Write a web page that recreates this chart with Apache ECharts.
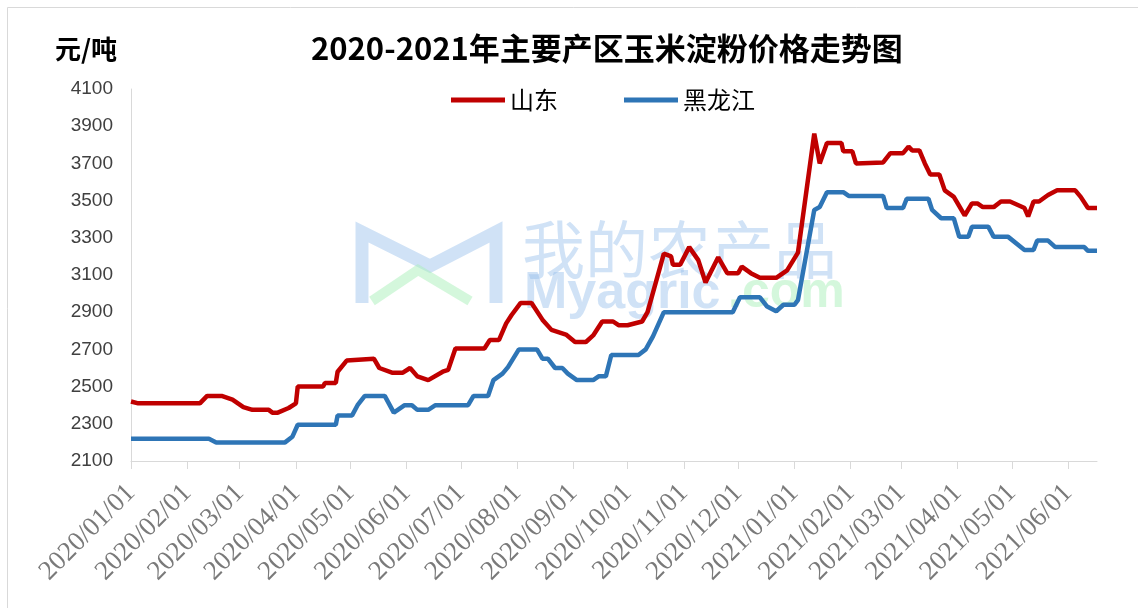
<!DOCTYPE html>
<html>
<head>
<meta charset="utf-8">
<title>玉米淀粉价格走势图</title>
<script src="https://cdn.jsdelivr.net/npm/echarts@6/dist/echarts.min.js"></script>
<style>html,body{margin:0;padding:0;background:#fff;}</style>
</head>
<body>
<div id="main" style="width:1138px;height:608px;"></div>
<script>
// 山东
var sdDates = ['2020-01-01','2020-01-05','2020-02-08','2020-02-12','2020-02-20','2020-02-26','2020-03-03','2020-03-08',
  '2020-03-17','2020-03-19','2020-03-22','2020-03-28','2020-04-01','2020-04-02','2020-04-16','2020-04-17','2020-04-23',
  '2020-04-24','2020-04-29','2020-04-30','2020-05-14','2020-05-17','2020-05-24','2020-05-30','2020-06-03','2020-06-07',
  '2020-06-13','2020-06-21','2020-06-24','2020-06-28','2020-07-14','2020-07-17','2020-07-22','2020-07-26','2020-07-29',
  '2020-08-03','2020-08-09','2020-08-15','2020-08-20','2020-08-28','2020-09-02','2020-09-08','2020-09-12','2020-09-17',
  '2020-09-23','2020-09-26','2020-10-01','2020-10-09','2020-10-12','2020-10-21','2020-10-25','2020-10-26','2020-10-30',
  '2020-11-04','2020-11-09','2020-11-13','2020-11-20','2020-11-25','2020-12-01','2020-12-03','2020-12-08','2020-12-13',
  '2020-12-22','2020-12-28','2021-01-03','2021-01-12','2021-01-15','2021-01-19','2021-01-27','2021-01-28','2021-02-02',
  '2021-02-04','2021-02-19','2021-02-23','2021-03-02','2021-03-05','2021-03-07','2021-03-11','2021-03-14','2021-03-17',
  '2021-03-22','2021-03-25','2021-03-30','2021-04-05','2021-04-09','2021-04-12','2021-04-15','2021-04-21','2021-04-25',
  '2021-04-30','2021-05-08','2021-05-10','2021-05-13','2021-05-16','2021-05-21','2021-05-26','2021-06-05','2021-06-08',
  '2021-06-12','2021-06-17'];
var sdPrices = [2420,2410,2410,2450,2450,2430,2390,2375,
  2375,2360,2360,2385,2410,2500,2500,2520,2520,
  2580,2640,2650,2650,2600,2575,2575,2600,2555,
  2535,2580,2590,2705,2705,2750,2750,2840,2885,
  2950,2950,2860,2805,2780,2740,2740,2775,2850,
  2850,2830,2830,2850,2900,3215,3200,3155,3155,
  3250,3180,3060,3195,3110,3110,3145,3110,3085,
  3085,3125,3220,3860,3700,3810,3810,3765,3765,
  3700,3705,3755,3755,3790,3770,3770,3700,3640,
  3640,3555,3520,3420,3485,3485,3465,3465,3495,
  3495,3460,3415,3495,3495,3530,3555,3555,3520,
  3460,3460];

// 黑龙江
var hljDates = ['2020-01-01','2020-02-13','2020-02-17','2020-03-26','2020-03-30','2020-04-02','2020-04-23','2020-04-24',
  '2020-05-02','2020-05-05','2020-05-09','2020-05-20','2020-05-25','2020-05-31','2020-06-04','2020-06-07','2020-06-13',
  '2020-06-17','2020-07-05','2020-07-08','2020-07-16','2020-07-19','2020-07-24','2020-07-27','2020-08-02','2020-08-12',
  '2020-08-15','2020-08-18','2020-08-22','2020-08-26','2020-08-29','2020-09-03','2020-09-12','2020-09-15','2020-09-19',
  '2020-09-22','2020-10-07','2020-10-11','2020-10-15','2020-10-21','2020-11-28','2020-12-02','2020-12-13','2020-12-17',
  '2020-12-22','2020-12-26','2021-01-01','2021-01-03','2021-01-12','2021-01-15','2021-01-19','2021-01-28','2021-01-31',
  '2021-02-19','2021-02-21','2021-03-02','2021-03-04','2021-03-16','2021-03-18','2021-03-23','2021-03-30','2021-04-02',
  '2021-04-07','2021-04-09','2021-04-18','2021-04-21','2021-04-29','2021-05-08','2021-05-13','2021-05-15','2021-05-21',
  '2021-05-25','2021-06-10','2021-06-12','2021-06-17'];
var hljPrices = [2220,2220,2200,2200,2230,2295,2295,2345,
  2345,2400,2450,2450,2360,2400,2400,2375,2375,
  2400,2400,2450,2450,2535,2570,2605,2700,2700,
  2650,2650,2600,2600,2570,2535,2535,2555,2555,
  2670,2670,2700,2770,2900,2900,2980,2980,2930,
  2905,2940,2940,2965,3450,3465,3545,3545,3525,
  3525,3460,3460,3510,3510,3450,3405,3405,3305,
  3305,3360,3360,3305,3305,3235,3235,3285,3285,
  3250,3250,3230,3230];

var monthTicks = ['2020/01/01','2020/02/01','2020/03/01','2020/04/01','2020/05/01','2020/06/01','2020/07/01',
  '2020/08/01','2020/09/01','2020/10/01','2020/11/01','2020/12/01','2021/01/01','2021/02/01','2021/03/01',
  '2021/04/01','2021/05/01','2021/06/01'];

function ts(s) {
  var p = s.split(/[-\/]/);
  return new Date(+p[0], +p[1] - 1, +p[2]).getTime();
}
function pad(n) { return n < 10 ? '0' + n : '' + n; }

var sdData = sdDates.map(function (d, i) { return [ts(d), sdPrices[i]]; });
var hljData = hljDates.map(function (d, i) { return [ts(d), hljPrices[i]]; });
var tickValues = monthTicks.map(ts);

var myChart = echarts.init(document.getElementById('main'));

var wmBlue = 'rgba(150,190,235,0.45)';
var wmGreen = 'rgba(170,240,185,0.5)';

var option = {
  backgroundColor: '#fff',
  animation: false,
  title: {
    text: '2020-2021年主要产区玉米淀粉价格走势图',
    left: 306,
    top: 28,
    textStyle: { fontSize: 31, fontWeight: 'bold', color: '#000', fontFamily: 'Noto Sans CJK SC' }
  },
  legend: {
    data: ['山东', '黑龙江'],
    left: 446,
    top: 83,
    icon: 'rect',
    itemWidth: 54,
    itemHeight: 5,
    itemGap: 66,
    textStyle: { fontSize: 24, color: '#000', fontFamily: 'Noto Sans CJK SC' }
  },
  grid: { left: 131, right: 41, top: 89, bottom: 147 },
  xAxis: {
    // dates kept as timestamps on a value axis so month-start ticks can be placed exactly
    type: 'value',
    min: ts('2020-01-01'),
    max: ts('2021-06-17'),
    axisLine: { lineStyle: { color: '#d9d9d9', width: 1 } },
    axisTick: { show: true, length: 8, lineStyle: { color: '#d9d9d9' }, customValues: tickValues },
    splitLine: { show: false },
    axisLabel: {
      customValues: tickValues,
      rotate: 45,
      margin: 28,
      color: '#7a7a7a',
      fontSize: 27,
      fontFamily: '"Liberation Serif", "DejaVu Serif", serif',
      formatter: function (v) {
        var d = new Date(v);
        return d.getFullYear() + '/' + pad(d.getMonth() + 1) + '/' + pad(d.getDate());
      }
    }
  },
  yAxis: {
    type: 'value',
    min: 2100,
    max: 4100,
    interval: 200,
    axisLine: { show: true, lineStyle: { color: '#d9d9d9' } },
    axisTick: { show: false },
    splitLine: { show: false },
    axisLabel: {
      color: '#404040', fontSize: 19, margin: 18, fontFamily: 'Liberation Sans',
      formatter: function (v) { return String(v); }
    }
  },
  graphic: [
    { type: 'rect', shape: { x: 7.5, y: 7.5, width: 1200, height: 700 }, style: { fill: 'none', stroke: '#d9d9d9', lineWidth: 1 }, silent: true },
    { type: 'text', left: 55, top: 36, style: { text: '元/吨', font: 'bold 26px "Noto Sans CJK SC"', fill: '#000' } },
    // watermark
    { type: 'polyline', z: 0, shape: { points: [[362, 303], [362, 232], [430, 266], [496, 232], [496, 303]] },
      style: { stroke: wmBlue, lineWidth: 13, fill: 'none' }, silent: true },
    { type: 'polyline', z: 0, shape: { points: [[372, 301], [418, 270], [470, 301]] },
      style: { stroke: wmGreen, lineWidth: 10, fill: 'none' }, silent: true },
    { type: 'text', z: 0, left: 522, top: 218, style: { text: '我的农产品', font: '63px "Noto Sans CJK SC"', fill: wmBlue }, silent: true },
    { type: 'text', z: 0, left: 524, top: 268, style: { text: 'Myagric', font: 'bold 52px "Liberation Sans"', fill: wmBlue }, silent: true },
    { type: 'text', z: 0, left: 728, top: 268, style: { text: '.com', font: 'bold 50px "Liberation Sans"', fill: wmGreen }, silent: true }
  ],
  series: [
    {
      name: '山东',
      type: 'line',
      data: sdData,
      showSymbol: false,
      symbol: 'none',
      z: 5,
      itemStyle: { color: '#C00000' },
      lineStyle: { color: '#C00000', width: 4.5 }
    },
    {
      name: '黑龙江',
      type: 'line',
      data: hljData,
      showSymbol: false,
      symbol: 'none',
      z: 5,
      itemStyle: { color: '#2E75B6' },
      lineStyle: { color: '#2E75B6', width: 4.5 }
    }
  ]
};

myChart.setOption(option);
</script>
</body>
</html>
